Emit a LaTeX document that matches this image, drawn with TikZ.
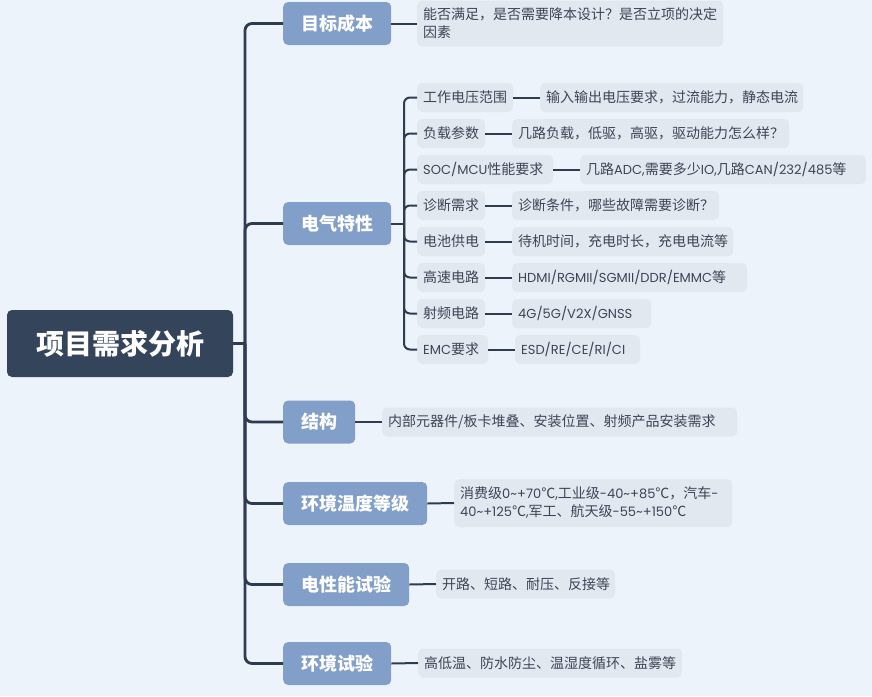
\documentclass[tikz,border=0pt]{standalone}
\usepackage{fontspec}
\setmainfont{Noto Sans CJK SC}
\newfontfamily\lat{Poppins}[Scale=0.93]
\definecolor{bgc}{HTML}{EDF3FA}
\definecolor{rootc}{HTML}{34445A}
\definecolor{lonec}{HTML}{819FC8}
\definecolor{leafc}{HTML}{E2E8F0}
\definecolor{txtc}{HTML}{3B4556}
\definecolor{linec}{HTML}{2E3C50}
\tikzset{
  rootbox/.style={fill=rootc, text=white, rounded corners=5pt, inner sep=0pt,
    font=\fontsize{28}{32}\selectfont\bfseries},
  onebox/.style={fill=lonec, text=white, rounded corners=5pt, inner sep=0pt,
    minimum height=43pt, anchor=west, font=\fontsize{18}{22}\selectfont\bfseries},
  leafbox/.style={fill=leafc, text=txtc, rounded corners=5pt, inner xsep=6pt, inner ysep=0pt,
    anchor=west, align=left, minimum height=29pt, font=\fontsize{14}{18}\selectfont},
  mainline/.style={draw=linec, line width=2.8pt, rounded corners=7pt},
  subline/.style={draw=linec, line width=2pt, rounded corners=6pt},
}
\newcommand{\latxt}[1]{{\lat #1}}
\begin{document}
\begin{tikzpicture}[x=1pt,y=-1pt]
\fill[bgc] (0,0) rectangle (872,696);
\useasboundingbox (0,0) rectangle (872,696);

% root
\node[rootbox, minimum width=226pt, minimum height=67pt] (root) at (120,343.5) {项目需求分析};
\coordinate (sp) at (245,343.5);

% level one
\node[onebox, minimum width=108pt] (cost) at (283,23.5) {目标成本};
\node[onebox, minimum width=108pt] (elec) at (283,223.5) {电气特性};
\node[onebox, minimum width=72pt] (struct) at (283,422) {结构};
\node[onebox, minimum width=144pt] (temp) at (283,503.5) {环境温度等级};
\node[onebox, minimum width=126pt] (etest) at (283,584.5) {电性能试验};
\node[onebox, minimum width=108pt] (envt) at (283,663.5) {环境试验};

\draw[mainline] (root.east) -- (sp);
\foreach \n in {cost,elec,struct,temp,etest,envt}
  \draw[mainline] (sp) |- (\n.west);

% leaves of level one
\node[leafbox, text width=294pt, minimum height=46pt] (costl) at (417,23.5)
  {能否满足，是否需要降本设计？是否立项的决定\\因素};
\node[leafbox, text width=343pt] (structl) at (382,422)
  {内部元器件/板卡堆叠、安装位置、射频产品安装需求};
\node[leafbox, text width=266pt, minimum height=48pt] (templ) at (454,503)
  {消费级\latxt{0\textasciitilde+70}℃\latxt{,}工业级\latxt{-40\textasciitilde+85}℃，汽车\latxt{-}\\\latxt{40\textasciitilde+125}℃\latxt{,}军工、航天级\latxt{-55\textasciitilde+150}℃};
\node[leafbox, text width=167pt] (etestl) at (436,584)
  {开路、短路、耐压、反接等};
\node[leafbox, text width=252pt] (envtl) at (418,663)
  {高低温、防水防尘、温湿度循环、盐雾等};

\draw[subline] (cost.east) -- (costl.west);
\draw[subline] (struct.east) -- (structl.west);
\draw[subline] (temp.east) -- (templ.west);
\draw[subline] (etest.east) -- (etestl.west);
\draw[subline] (envt.east) -- (envtl.west);

% electrical sub nodes
\coordinate (esp) at (404,223.5);
\node[leafbox, text width=84pt] (s1) at (417,97.5) {工作电压范围};
\node[leafbox, text width=56pt] (s2) at (417,133.5) {负载参数};
\node[leafbox, text width=124pt] (s3) at (417,169.5) {\latxt{SOC/MCU}性能要求};
\node[leafbox, text width=56pt] (s4) at (417,205.5) {诊断需求};
\node[leafbox, text width=56pt] (s5) at (417,241.5) {电池供电};
\node[leafbox, text width=56pt] (s6) at (417,277.5) {高速电路};
\node[leafbox, text width=56pt] (s7) at (417,313.5) {射频电路};
\node[leafbox, text width=59pt] (s8) at (417,349.5) {\latxt{EMC}要求};

\node[leafbox, text width=251pt] (t1) at (540,97.5) {输入输出电压要求，过流能力，静态电流};
\node[leafbox, text width=265pt] (t2) at (512,133.5) {几路负载，低驱，高驱，驱动能力怎么样？};
\node[leafbox, text width=274pt] (t3) at (580,169.5) {几路\latxt{ADC,}需要多少\latxt{IO,}几路\latxt{CAN/232/485}等};
\node[leafbox, text width=195pt] (t4) at (512,205.5) {诊断条件，哪些故障需要诊断？};
\node[leafbox, text width=209pt] (t5) at (512,241.5) {待机时间，充电时长，充电电流等};
\node[leafbox, text width=223pt] (t6) at (512,277.5) {\latxt{HDMI/RGMII/SGMII/DDR/EMMC}等};
\node[leafbox, text width=127pt] (t7) at (512,313.5) {\latxt{4G/5G/V2X/GNSS}};
\node[leafbox, text width=113pt] (t8) at (515,349.5) {\latxt{ESD/RE/CE/RI/CI}};

\draw[subline] (elec.east) -- (esp);
\foreach \i in {1,...,8} {
  \draw[subline] (esp) |- (s\i.west);
  \draw[subline] (s\i.east) -- (t\i.west);
}
\end{tikzpicture}
\end{document}
